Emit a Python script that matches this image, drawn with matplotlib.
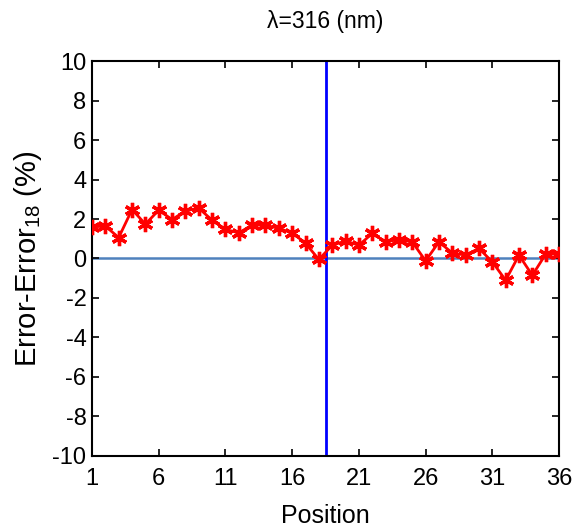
import matplotlib
matplotlib.use('Agg')
import matplotlib.pyplot as plt
import numpy as np

plt.rcParams['font.family'] = ['Liberation Sans', 'DejaVu Sans']
plt.rcParams['axes.unicode_minus'] = False

# data
position = np.arange(1, 37)
err_diff = [1.60, 1.64, 1.06, 2.48, 1.74, 2.45, 1.97, 2.41, 2.55, 1.94,
            1.47, 1.30, 1.69, 1.69, 1.52, 1.30, 0.77, -0.05, 0.67, 0.89,
            0.67, 1.27, 0.84, 0.96, 0.84, -0.12, 0.84, 0.28, 0.17, 0.51,
            -0.17, -1.10, 0.17, -0.85, 0.22, 0.22]
ref_position = 18.5
xticks = [1, 6, 11, 16, 21, 26, 31, 36]
yticks = list(range(-10, 11, 2))

fig = plt.figure(figsize=(5.73, 5.32), dpi=100)
ax = fig.add_axes([0.1606, 0.1429, 0.815, 0.7424])

ax.axhline(0, color='#4F81BD', linewidth=1.8, zorder=1)
ax.axvline(ref_position, color='#0000FF', linewidth=2.0, zorder=2)
ax.plot(position, err_diff, color='#FF0000', linewidth=2.0,
        marker=(6, 2, 0), markersize=11, markeredgewidth=2.4, zorder=3)

ax.set_xlim(1, 36)
ax.set_ylim(-10, 10)
ax.set_xticks(xticks)
ax.set_yticks(yticks)
ax.tick_params(direction='in', top=True, right=True, length=5, width=1.2,
               labelsize=17, pad=4)
ax.tick_params(axis='x', pad=9)
for s in ax.spines.values():
    s.set_linewidth(1.5)

ax.set_title('\u03bb=316 (nm)', fontsize=16.5, pad=24)
ax.set_xlabel('Position', fontsize=18, labelpad=10)
ax.set_ylabel('Error-Error$_{\\mathregular{18}}$ (%)', fontsize=21, labelpad=6)

fig.savefig('out.png', dpi=100)
